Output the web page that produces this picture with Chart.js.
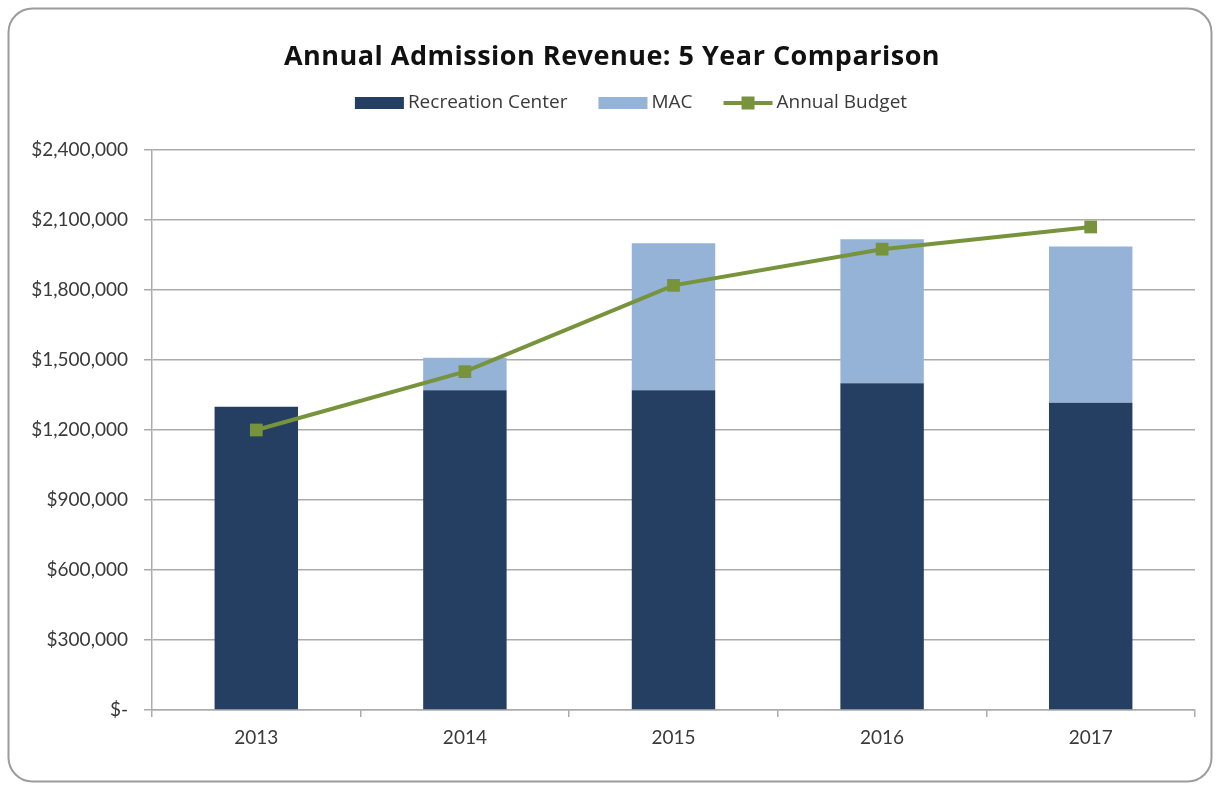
<!DOCTYPE html>
<html>
<head>
<meta charset="utf-8">
<title>Annual Admission Revenue: 5 Year Comparison</title>
<script src="https://cdn.jsdelivr.net/npm/chart.js@4.4.1/dist/chart.umd.min.js"></script>
<style>
  html, body { margin: 0; padding: 0; background: #ffffff; }
  #wrap { width: 1217px; height: 786px; position: relative; }
</style>
</head>
<body>
<div id="wrap"><canvas id="chart" width="1217" height="786"></canvas></div>
<script>
// Revenue by year (USD)
const years = ['2013', '2014', '2015', '2016', '2017'];
const recreationCenter = [1300000, 1370000, 1370000, 1400000, 1317000];
const mac = [0, 140000, 630000, 617000, 669000];
const annualBudget = [1200000, 1450000, 1820000, 1975000, 2070000];
const yTickValues = [0, 300000, 600000, 900000, 1200000, 1500000, 1800000, 2100000, 2400000];

const chartTitle = 'Annual Admission Revenue: 5 Year Comparison';
const seriesNames = ['Recreation Center', 'MAC', 'Annual Budget'];

const COLORS = {
  rec: '#243F62',
  mac: '#95B3D7',
  budget: '#77933C',
  grid: '#ABABAB',
  text: '#3A3A3A'
};
const FONT = 'Lato, "Open Sans", sans-serif';
const HEAD_FONT = '"Open Sans", Lato, sans-serif';

function money(v) {
  return v === 0 ? '$-' : '$' + v.toLocaleString('en-US');
}

// Rounded frame, title and legend drawn around the plot
const framePlugin = {
  id: 'frame',
  beforeDraw(chart) {
    const ctx = chart.ctx;
    ctx.save();
    ctx.fillStyle = '#ffffff';
    ctx.fillRect(0, 0, chart.width, chart.height);
    ctx.beginPath();
    ctx.roundRect(8.5, 8.5, 1203, 773, 24);
    ctx.strokeStyle = '#9C9C9C';
    ctx.lineWidth = 2;
    ctx.stroke();
    ctx.restore();
  },
  afterDraw(chart) {
    const ctx = chart.ctx;
    ctx.save();
    // title
    ctx.fillStyle = '#111111';
    ctx.font = 'bold 27px ' + HEAD_FONT;
    ctx.letterSpacing = '0.5px';
    ctx.textAlign = 'center';
    ctx.textBaseline = 'alphabetic';
    ctx.fillText(chartTitle, 612, 65);
    ctx.letterSpacing = '0px';

    // legend
    ctx.font = '19px ' + HEAD_FONT;
    ctx.textAlign = 'left';
    const boxW = 49, boxH = 12, gap = 4, spacing = 31, cy = 103;
    const widths = seriesNames.map(n => boxW + gap + ctx.measureText(n).width);
    const total = widths.reduce((a, b) => a + b, 0) + spacing * (widths.length - 1);
    let x = 631 - total / 2;
    seriesNames.forEach((name, i) => {
      if (i < 2) {
        ctx.fillStyle = i === 0 ? COLORS.rec : COLORS.mac;
        ctx.fillRect(x, cy - boxH / 2, boxW, boxH);
      } else {
        ctx.strokeStyle = COLORS.budget;
        ctx.lineWidth = 4;
        ctx.beginPath();
        ctx.moveTo(x, cy);
        ctx.lineTo(x + boxW, cy);
        ctx.stroke();
        ctx.fillStyle = COLORS.budget;
        ctx.fillRect(x + boxW / 2 - 6.5, cy - 6.5, 13, 13);
      }
      ctx.fillStyle = COLORS.text;
      ctx.textBaseline = 'middle';
      ctx.fillText(name, x + boxW + gap, cy);
      x += widths[i] + spacing;
    });
    ctx.restore();
  }
};

Chart.defaults.font.family = FONT;
Chart.defaults.color = COLORS.text;

new Chart(document.getElementById('chart'), {
  type: 'bar',
  data: {
    labels: years,
    datasets: [
      {
        type: 'line',
        label: seriesNames[2],
        data: annualBudget,
        borderColor: COLORS.budget,
        backgroundColor: COLORS.budget,
        borderWidth: 4,
        pointStyle: 'rect',
        pointRadius: 9,
        pointHoverRadius: 9,
        pointBorderWidth: 0,
        tension: 0,
        order: 0
      },
      {
        label: seriesNames[0],
        data: recreationCenter,
        backgroundColor: COLORS.rec,
        borderWidth: 0,
        order: 1
      },
      {
        label: seriesNames[1],
        data: mac,
        backgroundColor: COLORS.mac,
        borderWidth: 0,
        order: 1
      }
    ]
  },
  options: {
    responsive: false,
    animation: false,
    devicePixelRatio: 1,
    barPercentage: 1,
    categoryPercentage: 0.4,
    layout: { padding: { top: 150, right: 22, bottom: 0, left: 0 } },
    plugins: {
      legend: { display: false },
      title: { display: false },
      tooltip: { enabled: false }
    },
    scales: {
      x: {
        stacked: true,
        grid: {
          offset: true,
          drawOnChartArea: false,
          drawTicks: true,
          tickLength: 7,
          color: COLORS.grid,
          lineWidth: 1.5
        },
        border: { color: COLORS.grid, width: 1.5 },
        ticks: { font: { size: 19 }, color: COLORS.text, padding: 9 },
        afterFit(scale) { scale.height = 76; }
      },
      y: {
        stacked: true,
        min: 0,
        max: 2400000,
        afterBuildTicks(scale) {
          scale.ticks = yTickValues.map(v => ({ value: v }));
        },
        grid: {
          color: COLORS.grid,
          lineWidth: 1.5,
          tickLength: 8
        },
        border: { color: COLORS.grid, width: 1.5 },
        ticks: {
          font: { size: 19 },
          color: COLORS.text,
          padding: 16,
          callback: v => money(v)
        },
        afterFit(scale) { scale.width = 152; }
      }
    }
  },
  plugins: [framePlugin]
});
</script>
</body>
</html>
